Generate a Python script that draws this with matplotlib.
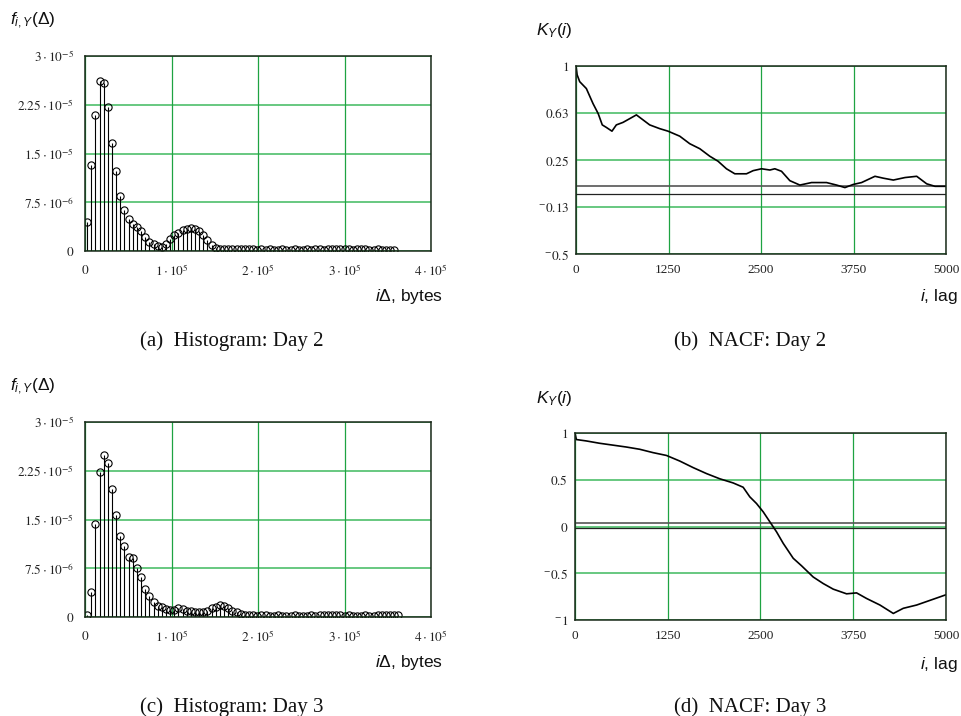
import numpy as np
import matplotlib
matplotlib.use("Agg")
import matplotlib.pyplot as plt

plt.rcParams['mathtext.fontset'] = 'custom'
plt.rcParams['mathtext.rm'] = 'Liberation Sans'
plt.rcParams['mathtext.it'] = 'Liberation Sans:italic'
plt.rcParams['mathtext.bf'] = 'Liberation Sans:bold'

# ---------------- data ----------------
bin_width = 4800.0
bin_offset = 2400.0

hist_day2 = np.array([
    0.45, 1.33, 2.09, 2.62, 2.58, 2.22, 1.66, 1.23, 0.85, 0.63,
    0.49, 0.41, 0.37, 0.31, 0.22, 0.14, 0.11, 0.07, 0.06, 0.11,
    0.19, 0.24, 0.28, 0.32, 0.34, 0.35, 0.34, 0.31, 0.24, 0.17,
    0.10, 0.05, 0.035, 0.03, 0.035, 0.03, 0.03, 0.025, 0.03, 0.025,
    0.025, 0.02, 0.025, 0.02, 0.025, 0.02, 0.02, 0.025, 0.02, 0.02,
    0.025, 0.02, 0.02, 0.025, 0.02, 0.03, 0.025, 0.02, 0.03, 0.035,
    0.03, 0.025, 0.03, 0.025, 0.02, 0.035, 0.03, 0.025, 0.02, 0.02,
    0.025, 0.02, 0.02, 0.015, 0.015]) * 1e-5

hist_day3 = np.array([
    0.03, 0.38, 1.43, 2.23, 2.50, 2.37, 1.97, 1.57, 1.25, 1.09,
    0.92, 0.91, 0.75, 0.61, 0.43, 0.33, 0.23, 0.17, 0.15, 0.13,
    0.11, 0.11, 0.14, 0.13, 0.10, 0.09, 0.07, 0.07, 0.08, 0.10,
    0.14, 0.16, 0.18, 0.17, 0.14, 0.10, 0.07, 0.05, 0.03, 0.025,
    0.025, 0.02, 0.025, 0.025, 0.02, 0.02, 0.025, 0.02, 0.02, 0.02,
    0.025, 0.02, 0.02, 0.02, 0.025, 0.02, 0.03, 0.035, 0.035, 0.03,
    0.03, 0.025, 0.02, 0.025, 0.02, 0.02, 0.02, 0.025, 0.02, 0.02,
    0.025, 0.03, 0.03, 0.025, 0.035, 0.03]) * 1e-5

nacf2_lag = [0, 15, 50, 140, 230, 300, 355, 410, 486, 545, 635, 726, 816,
             906, 996, 1132, 1244, 1402, 1537, 1673, 1808, 1920, 2033,
             2146, 2304, 2394, 2507, 2620, 2687, 2777, 2890, 3025, 3183,
             3386, 3521, 3634, 3747, 3859, 4040, 4152, 4288, 4446, 4604,
             4739, 4851, 5000]
nacf2_val = [1.0, 0.93, 0.875, 0.82, 0.70, 0.62, 0.53, 0.51, 0.48, 0.53,
             0.55, 0.58, 0.61, 0.57, 0.53, 0.50, 0.48, 0.44, 0.38, 0.34,
             0.28, 0.24, 0.18, 0.14, 0.14, 0.165, 0.18, 0.17, 0.18, 0.16,
             0.085, 0.05, 0.07, 0.07, 0.05, 0.03, 0.055, 0.07, 0.12, 0.105,
             0.09, 0.11, 0.12, 0.06, 0.04, 0.04]

nacf3_lag = [0, 18, 153, 333, 513, 692, 872, 1052, 1232, 1412, 1592, 1772,
             1952, 2131, 2266, 2356, 2446, 2536, 2626, 2716, 2806, 2941,
             3053, 3210, 3345, 3480, 3660, 3795, 3930, 4110, 4290, 4424,
             4604, 4784, 5000]
nacf3_val = [1.0, 0.93, 0.915, 0.89, 0.87, 0.85, 0.826, 0.79, 0.76, 0.70,
             0.63, 0.566, 0.51, 0.466, 0.42, 0.317, 0.246, 0.157, 0.05,
             -0.057, -0.18, -0.34, -0.42, -0.54, -0.61, -0.67, -0.72, -0.71,
             -0.77, -0.84, -0.93, -0.875, -0.84, -0.79, -0.73]

conf_bounds = [0.04, -0.02]

hist_xticks = [0, 1e5, 2e5, 3e5, 4e5]
hist_xlabels = [r'$0$', r'$1\cdot10^{5}$', r'$2\cdot10^{5}$', r'$3\cdot10^{5}$', r'$4\cdot10^{5}$']
hist_yticks = [0, 7.5e-6, 1.5e-5, 2.25e-5, 3e-5]
hist_ylabels = [r'$0$', r'$7.5\cdot10^{-6}$', r'$1.5\cdot10^{-5}$', r'$2.25\cdot10^{-5}$', r'$3\cdot10^{-5}$']

lag_xticks = [0, 1250, 2500, 3750, 5000]
lag_xlabels = ['0', '1250', '2500', '3750', '5000']
nacf2_yticks = [-0.5, -0.125, 0.25, 0.625, 1.0]
nacf2_ylabels = [r'$^{-}0.5$', r'$^{-}0.13$', r'$0.25$', r'$0.63$', r'$1$']
nacf3_yticks = [-1, -0.5, 0, 0.5, 1]
nacf3_ylabels = [r'$^{-}1$', r'$^{-}0.5$', r'$0$', r'$0.5$', r'$1$']

captions = ['(a)  Histogram: Day 2', '(b)  NACF: Day 2',
            '(c)  Histogram: Day 3', '(d)  NACF: Day 3']

# ---------------- figure ----------------
W, H = 962, 716
fig = plt.figure(figsize=(W / 100, H / 100), dpi=100)

def fax(l, t, r, b):
    return fig.add_axes([l / W, 1 - b / H, (r - l) / W, (b - t) / H])

HGRID = '#5cc476'
VGRID = '#1ea342'
SERIF = 'Liberation Serif'
SANS = 'Liberation Sans'

def style(ax, xticks, xlabels, yticks, ylabels, xpad=7, ypad=5):
    ax.set_xticks(xticks)
    ax.set_yticks(yticks)
    ax.set_xticklabels(xlabels)
    ax.set_yticklabels(ylabels)
    for lab in ax.get_xticklabels() + ax.get_yticklabels():
        lab.set_fontfamily(SERIF)
        lab.set_fontsize(9.5)
        lab.set_math_fontfamily('stix')
        lab.set_color('#222222')
    ax.tick_params(length=0, pad=xpad, axis='x')
    ax.tick_params(length=0, pad=ypad, axis='y')
    for y in yticks:
        ax.axhline(y, color=HGRID, lw=1.3, zorder=0.5)
    for x in xticks:
        ax.axvline(x, color=VGRID, lw=0.9, zorder=0.5)
    for s in ax.spines.values():
        s.set_color('#1a2a1a')
        s.set_linewidth(1.1)
        s.set_zorder(3)

def hist_panel(ax, vals):
    xs = bin_offset + bin_width * np.arange(len(vals))
    ax.vlines(xs, 0, vals, colors='black', lw=0.8, zorder=2)
    ax.plot(xs, vals, 'o', ms=5.2, mfc='none', mec='black', mew=0.8, zorder=2.5)
    ax.set_xlim(0, 4e5)
    ax.set_ylim(0, 3e-5)
    style(ax, hist_xticks, hist_xlabels, hist_yticks, hist_ylabels, xpad=9, ypad=8)

def nacf_panel(ax, lag, val, ylim, yt, yl):
    ax.plot(lag, val, color='black', lw=1.2, zorder=2)
    ax.axhline(conf_bounds[0], color='#555555', lw=1.2, zorder=1.5)
    ax.axhline(conf_bounds[1], color='#222222', lw=0.9, zorder=1.5)
    ax.set_xlim(0, 5000)
    ax.set_ylim(*ylim)
    style(ax, lag_xticks, lag_xlabels, yt, yl, xpad=7, ypad=5)

ax1 = fax(85, 56, 431, 251)
hist_panel(ax1, hist_day2)
ax2 = fax(576, 66, 946, 254)
nacf_panel(ax2, nacf2_lag, nacf2_val, (-0.5, 1.0), nacf2_yticks, nacf2_ylabels)
ax3 = fax(85, 422, 431, 617)
hist_panel(ax3, hist_day3)
ax4 = fax(575, 433, 946, 620)
nacf_panel(ax4, nacf3_lag, nacf3_val, (-1.0, 1.0), nacf3_yticks, nacf3_ylabels)

def ftext(x, y, s, **kw):
    return fig.text(x / W, 1 - y / H, s, **kw)

lab_kw = dict(fontsize=12.5, family=SANS, math_fontfamily='custom', color='#111111')
for dy in (0, 366):
    ftext(10, 21 + dy, r'$f_{i,Y}\mathrm{(\Delta)}$', ha='left', va='center', **lab_kw)
    ftext(443, 297 + dy, r'$i\mathrm{\Delta}$, bytes', ha='right', va='center', **lab_kw)
for dy, y0 in ((0, 31), (0, 0)):
    pass
ftext(536, 31, r'$K_{Y}\mathrm{(}i\mathrm{)}$', ha='left', va='center', **lab_kw)
ftext(536, 398, r'$K_{Y}\mathrm{(}i\mathrm{)}$', ha='left', va='center', **lab_kw)
ftext(958, 297, r'$i$, lag', ha='right', va='center', **lab_kw)
ftext(958, 664, r'$i$, lag', ha='right', va='center', **lab_kw)

cap_kw = dict(fontsize=15, family=SERIF, color='#111111', ha='center', va='center')
ftext(232, 341, captions[0], **cap_kw)
ftext(750, 341, captions[1], **cap_kw)
ftext(232, 707, captions[2], **cap_kw)
ftext(750, 707, captions[3], **cap_kw)

fig.savefig('out.png', dpi=100)
